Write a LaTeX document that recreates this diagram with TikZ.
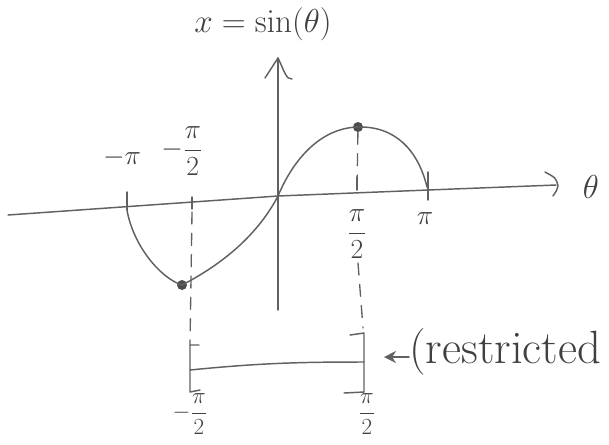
\documentclass[tikz,border=0pt]{standalone}
\usetikzlibrary{arrows.meta}
\begin{document}
\begin{tikzpicture}[x=0.75pt,y=-0.75pt, line cap=round, line join=round,
  pen/.style={draw=black!62, line width=1.1pt},
  dashline/.style={draw=black!62, line width=1pt, dash pattern=on 9pt off 7pt},
  lbl/.style={text=black!75, inner sep=0pt},
  dotmark/.style={circle, fill=black!70, inner sep=0pt, minimum size=7.5pt}]
\useasboundingbox (0,0) rectangle (609,444);

% axes
\coordinate (xl) at (8,215);
\coordinate (xr) at (556,185);
\draw[pen] (xl) -- (278,196) -- (428,190) -- (xr);
\draw[pen] (545,172) .. controls (556,178) .. (558,186) .. controls (557,190) .. (553,196);
\coordinate (yb) at (278,310);
\coordinate (yt) at (278,58);
\draw[pen] (yb) -- (yt);
\draw[pen] (265,78) -- (yt) .. controls (284,70) and (286,80) .. (292,79);

% titles
\node[lbl, font=\fontsize{24}{28}\selectfont] (title) at (263,24) {$x = \sin(\theta)$};
\node[lbl, font=\fontsize{26}{30}\selectfont] (theta) at (591,187) {$\theta$};

% ticks
\draw[pen] (127,192) -- (127,210);
\draw[pen] (192,197) -- (192,209);
\draw[pen] (357,177) -- (357,190);
\draw[pen] (428,172) -- (428,200);

% tick labels
\node[lbl, font=\fontsize{22}{26}\selectfont] (mpi) at (122,158) {$-\pi$};
\node[lbl, font=\fontsize{22}{26}\selectfont] (mpi2) at (182,151) {$\displaystyle -\frac{\pi}{2}$};
\node[lbl, font=\fontsize{22}{26}\selectfont] (pi2) at (357,234) {$\displaystyle \frac{\pi}{2}$};
\node[lbl, font=\fontsize{22}{26}\selectfont] (pi) at (425,219) {$\pi$};

% curve
\node[dotmark] (dmin) at (182,285) {};
\node[dotmark] (dmax) at (358,127) {};
\coordinate (o) at (278,196);
\draw[pen] (127,210) .. controls (133,245) and (160,278) .. (dmin.center)
  .. controls (215,268) and (255,240) .. (o)
  .. controls (293,160) and (320,128) .. (dmax.center)
  .. controls (395,126) and (418,150) .. (427,187);

% dashed guides
\coordinate (lt) at (190,345);
\coordinate (rt) at (364,333);
\draw[dashline] (192,212) -- (lt);
\draw[dashline] (dmax) -- (357,190);
\draw[dashline] (pi2.south) ++(1,4) -- (363,328);

% bracket interval
\coordinate (lb) at (190,392);
\coordinate (rb) at (364,392);
\draw[pen] (199,345) -- (lt) -- (lb) -- (200,390);
\draw[pen] (350,335) -- (rt) -- (rb) -- (344,393);
\draw[pen] (190,370) .. controls (260,363) and (300,362) .. (364,362);

% bottom labels
\node[lbl, font=\fontsize{19}{23}\selectfont] (bm) at (190,414) {$\displaystyle -\frac{\pi}{2}$};
\node[lbl, font=\fontsize{19}{23}\selectfont] (bp) at (367,414) {$\displaystyle \frac{\pi}{2}$};

% restricted
\node[lbl, anchor=west, font=\fontsize{35}{40}\selectfont] (restr) at (409,352) {(restricted};
\coordinate (atip) at (384,357);
\draw[pen, -{Stealth[length=9pt,width=9pt]}] (restr.west |- atip) -- (atip);
\end{tikzpicture}
\end{document}
